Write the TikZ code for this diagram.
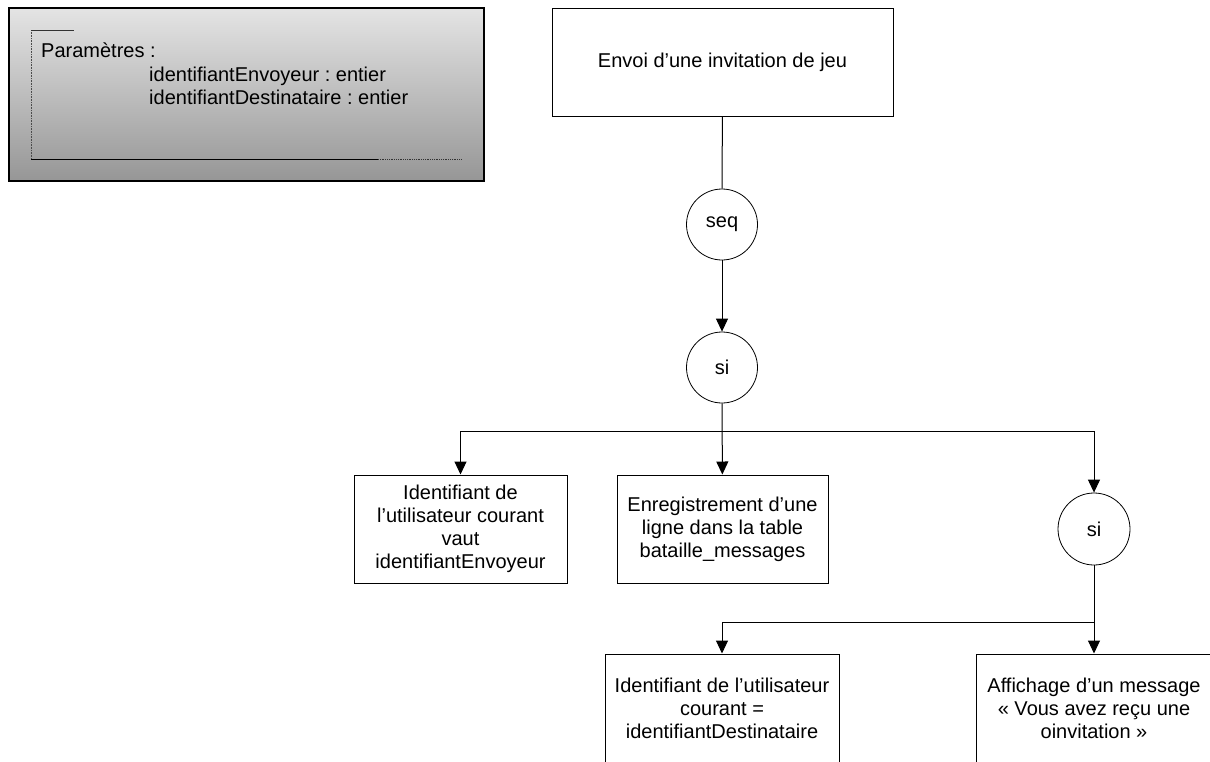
\documentclass[tikz,border=0pt]{standalone}
\usepackage{fontspec}
\setmainfont{Liberation Sans}
\usetikzlibrary{arrows.meta}
\frenchspacing

\definecolor{shadetop}{RGB}{228,228,228}
\definecolor{shadebot}{RGB}{150,150,150}

\tikzset{
  every node/.style={font=\fontsize{20}{23}\selectfont},
  stepbox/.style={draw=black, line width=1pt, fill=white, align=center,
                  inner sep=0pt},
  opnode/.style={draw=black, line width=0.8pt, circle, fill=white, inner sep=0pt},
  link/.style={draw=black, line width=1pt},
  arr/.style={link, -{Triangle[width=12pt,length=13pt]}},
  paramline/.style={anchor=base west, inner sep=0pt},
}

\begin{document}
\begin{tikzpicture}[x=1pt, y=-1pt]
\useasboundingbox (0,0) rectangle (1210,761);
\clip (0,0) rectangle (1210,761);

% parameter panel
\draw[line width=1.6pt, top color=shadetop, bottom color=shadebot]
  (9,8) rectangle (484,181);
\draw[black!70, line width=0.6pt, densely dotted] (31,30) -- (31,159);
\draw[black!80, line width=0.8pt] (31,30) -- (74,30);
\draw[black, line width=1pt] (31,159) -- (378,159);
\draw[black!80, line width=0.8pt, densely dotted] (378,159) -- (462,159);
\node[paramline] (p1) at (41,57) {Paramètres :};
\node[paramline] (p2) at (149,81) {identifiantEnvoyeur : entier};
\node[paramline] (p3) at (149,104) {identifiantDestinataire : entier};

% tree of operations
\node[stepbox, minimum width=341pt, minimum height=108pt] (root) at (722.5,62)
  {Envoi d’une invitation de jeu};
\node[opnode, minimum size=71pt] (seq) at (722,224.5) {seq};
\node[opnode, minimum size=71pt] (si1) at (722,367.5) {si};

\node[stepbox, minimum width=213pt, minimum height=108pt] (b1) at (460.5,529)
  {Identifiant de\\l’utilisateur courant\\vaut\\identifiantEnvoyeur};
\node[stepbox, minimum width=211pt, minimum height=108pt] (b2) at (722.5,529)
  {Enregistrement d’une\\ligne dans la table\\bataille\_messages};
\node[opnode, minimum size=72pt] (si2) at (1094,529) {si};

\node[stepbox, minimum width=234pt, minimum height=108pt] (b3) at (722,708)
  {Identifiant de l’utilisateur\\courant =\\identifiantDestinataire};
\node[stepbox, minimum width=236pt, minimum height=108pt] (b4) at (1094,708)
  {Affichage d’un message\\« Vous avez reçu une\\oinvitation »};

\coordinate (j1) at (722,431);
\coordinate (j2) at (1094,622);

\draw[link] (root) -- (seq);
\draw[arr] (seq) -- (si1);
\draw[arr] (si1) -- (b2);
\draw[arr] (j1) -| (b1.north);
\draw[arr] (j1) -| (si2.north);
\draw[link] (si2) -- (j2);
\draw[arr] (j2) -- (b4.north);
\draw[arr] (j2) -| (b3.north);
\end{tikzpicture}
\end{document}
